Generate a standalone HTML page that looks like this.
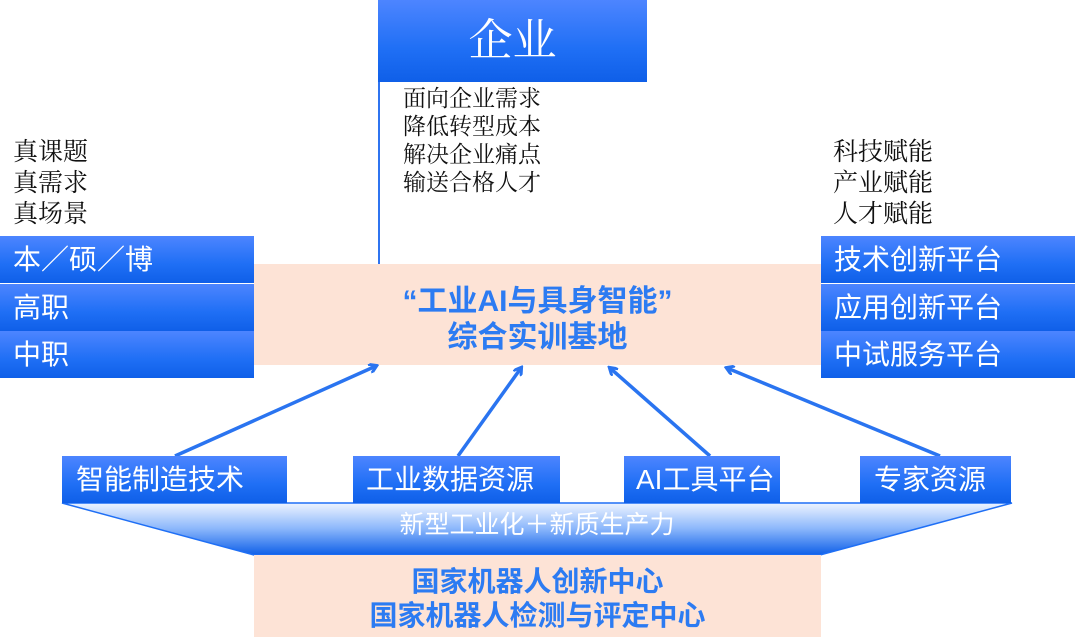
<!DOCTYPE html>
<html><head><meta charset="utf-8"><style>
body{margin:0;width:1075px;height:639px;background:#fff;overflow:hidden;position:relative;font-family:"Liberation Sans","Noto Sans CJK SC",sans-serif}
.b{position:absolute;background:linear-gradient(#4d85ff,#1f6ff5 60%,#0f5fe8);color:#fff;font-size:28px;line-height:47px;box-sizing:border-box;white-space:nowrap}
.t{position:absolute;font-family:"Liberation Serif","Noto Serif CJK SC",serif;font-size:23px;line-height:28px;color:#111}
.p{position:absolute;background:#fde3d6}
.bl{position:absolute;color:#2c7bf2;font-weight:bold;font-size:30px;text-align:center;width:100%;white-space:nowrap}
</style></head><body>
<div class="b" style="left:378px;top:0;width:269px;height:82px;text-align:center;line-height:82px;font-family:'Liberation Serif','Noto Serif CJK SC',serif;font-size:44px">企业</div>
<div style="position:absolute;left:378px;top:82px;width:2px;height:182px;background:#2f74f0"></div>
<div class="t" style="left:403px;top:85px">面向企业需求<br>降低转型成本<br>解决企业痛点<br>输送合格人才</div>
<div class="t" style="left:13px;top:137px;line-height:31px;font-size:25px">真课题<br>真需求<br>真场景</div>
<div class="t" style="left:833px;top:137px;line-height:31px;font-size:25px">科技赋能<br>产业赋能<br>人才赋能</div>
<div class="p" style="left:254px;top:264px;width:567px;height:101px">
<div class="bl" style="top:12px">“工业AI与具身智能”</div>
<div class="bl" style="top:48px">综合实训基地</div></div>
<div class="b" style="left:0;top:236px;width:254px;height:47px;padding-left:13px">本／硕／博</div>
<div class="b" style="left:0;top:284px;width:254px;height:47px;padding-left:13px">高职</div>
<div class="b" style="left:0;top:331px;width:254px;height:47px;padding-left:13px">中职</div>
<div class="b" style="left:821px;top:236px;width:254px;height:47px;padding-left:13px">技术创新平台</div>
<div class="b" style="left:821px;top:284px;width:254px;height:47px;padding-left:13px">应用创新平台</div>
<div class="b" style="left:821px;top:331px;width:254px;height:47px;padding-left:13px">中试服务平台</div>
<svg style="position:absolute;left:0;top:0" width="1075" height="639">
<defs><linearGradient id="g" x1="0" y1="0" x2="0" y2="1"><stop offset="0" stop-color="#eef4ff"/><stop offset="0.5" stop-color="#8ab6fb"/><stop offset="1" stop-color="#0f5fe8"/></linearGradient>
<marker id="a" markerWidth="10" markerHeight="10" refX="7" refY="5" orient="auto" markerUnits="userSpaceOnUse"><path d="M0,0 L8,5 L0,10" fill="none" stroke="#2a74f0" stroke-width="3"/></marker></defs>
<polygon points="62,503 1012,503 820,555 254,555" fill="url(#g)" stroke="#1f6ff5" stroke-width="1.5"/>
<g stroke="#2a74f0" stroke-width="3.5" marker-end="url(#a)">
<line x1="175" y1="456" x2="376" y2="366"/><line x1="458" y1="456" x2="521" y2="368"/>
<line x1="710" y1="456" x2="610" y2="368"/><line x1="940" y1="456" x2="727" y2="368"/></g>
</svg>
<div style="position:absolute;left:254px;top:510px;width:566px;text-align:center;color:#fff;font-size:25px;line-height:30px">新型工业化＋新质生产力</div>
<div class="b" style="left:62px;top:456px;width:225px;height:47px;padding-left:14px">智能制造技术</div>
<div class="b" style="left:353px;top:456px;width:207px;height:47px;padding-left:13px">工业数据资源</div>
<div class="b" style="left:624px;top:456px;width:156px;height:47px;padding-left:12px">AI工具平台</div>
<div class="b" style="left:860px;top:456px;width:151px;height:47px;padding-left:14px">专家资源</div>
<div class="p" style="left:254px;top:555px;width:567px;height:82px">
<div class="bl" style="top:5px;font-size:28px">国家机器人创新中心</div>
<div class="bl" style="top:39px;font-size:28px">国家机器人检测与评定中心</div></div>
</body></html>
